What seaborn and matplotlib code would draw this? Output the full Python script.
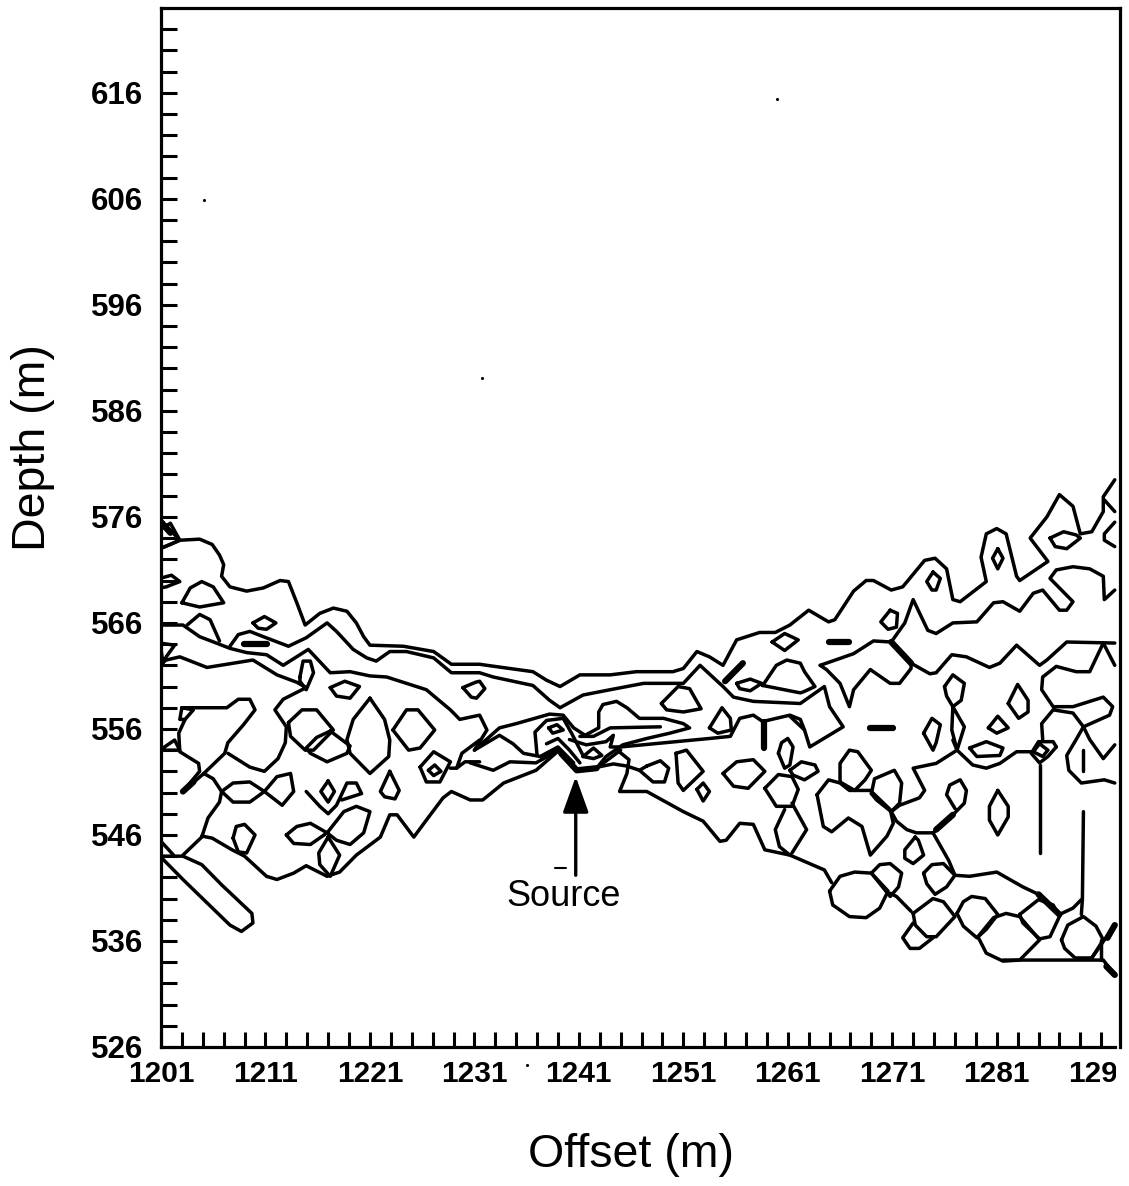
import matplotlib
matplotlib.use("Agg")
import matplotlib.pyplot as plt
import seaborn as sns
import pandas as pd
from matplotlib.ticker import FixedLocator
from matplotlib.transforms import Bbox

# Axis ticks
offset_labelled = [1201, 1211, 1221, 1231, 1241, 1251, 1261, 1271, 1281, 1291]
offset_minor = list(range(1201, 1293, 2))
depth_labelled = [526, 536, 546, 556, 566, 576, 586, 596, 606, 616]
depth_minor = list(range(526, 624, 2))

# Long contours as (offset, depth)
upper_front = [(1200.9, 573.0), (1201.9, 573.4), (1202.8, 573.8), (1204.7, 573.9), (1205.9, 573.4), (1206.6, 572.4),
               (1207.0, 571.5), (1206.8, 570.4), (1207.6, 569.4), (1209.2, 569.0), (1210.8, 569.3), (1212.4, 570.0),
               (1213.2, 569.9), (1214.0, 567.9), (1214.8, 565.8), (1216.2, 566.9), (1217.5, 567.4), (1218.8, 567.1),
               (1219.7, 566.0), (1220.4, 564.7), (1221.0, 563.9), (1224.2, 563.8), (1227.1, 563.3), (1228.8, 562.1),
               (1231.5, 562.1), (1232.2, 562.0), (1234.4, 561.7), (1236.6, 561.4), (1237.9, 560.6), (1239.2, 560.0),
               (1241.1, 561.1), (1244.0, 561.1), (1246.5, 561.4), (1250.0, 561.4), (1251.0, 561.7), (1252.3, 563.3),
               (1253.5, 562.8), (1254.8, 562.0), (1256.1, 564.4), (1258.3, 565.1), (1259.8, 565.1), (1261.2, 565.8),
               (1263.0, 567.2), (1264.9, 566.1), (1265.5, 566.3), (1267.3, 569.0), (1268.5, 570.0), (1269.2, 570.0),
               (1270.9, 569.1), (1272.0, 569.4), (1274.1, 571.9), (1275.1, 572.1), (1276.2, 571.1), (1276.8, 568.2),
               (1277.5, 568.0), (1280.0, 569.9), (1279.5, 572.2), (1280.0, 574.4), (1281.0, 574.9), (1281.9, 574.4),
               (1282.9, 570.4), (1283.2, 570.0), (1285.9, 571.8), (1284.2, 574.0), (1285.8, 576.0), (1287.0, 578.1),
               (1288.3, 577.0), (1289.0, 574.4), (1290.1, 574.6), (1291.2, 576.5), (1291.2, 577.9), (1292.3, 579.5)]
second_front = [(1207.6, 563.8), (1208.4, 564.9), (1209.5, 565.2), (1210.8, 564.7), (1213.2, 563.8), (1214.9, 564.6),
                (1216.9, 566.0), (1217.8, 565.2), (1219.4, 563.5), (1220.7, 562.7), (1221.6, 562.4), (1222.9, 563.3),
                (1224.5, 563.3), (1227.1, 562.7), (1228.8, 561.3), (1231.5, 561.3), (1232.8, 560.9), (1236.6, 560.1),
                (1238.2, 558.7), (1239.2, 558.0), (1241.4, 559.2), (1244.0, 559.7), (1247.2, 560.3), (1251.0, 560.3),
                (1252.6, 562.0), (1254.8, 560.0), (1255.8, 559.0), (1257.7, 558.6), (1262.2, 558.4), (1264.5, 560.0),
                (1265.0, 558.1), (1266.3, 556.2), (1263.1, 554.3), (1262.6, 555.9), (1261.2, 557.2)]
left_start = [(1200.9, 565.8), (1203.1, 565.8), (1204.7, 564.7), (1206.3, 564.1), (1207.6, 563.6), (1209.2, 563.2),
              (1211.1, 563.0), (1212.7, 562.0), (1215.1, 563.5), (1217.2, 561.3), (1219.1, 561.4), (1221.0, 561.0),
              (1222.6, 560.9), (1224.5, 560.3), (1226.4, 559.7), (1228.7, 557.8), (1229.6, 556.9), (1231.5, 557.3),
              (1232.2, 555.9), (1231.0, 554.0), (1233.4, 556.1), (1235.0, 556.5), (1238.2, 557.4), (1239.5, 557.3),
              (1240.5, 556.1), (1241.6, 555.4), (1242.9, 556.1), (1242.9, 557.6), (1243.3, 558.3), (1244.6, 558.6),
              (1245.6, 558.0), (1246.8, 557.0), (1249.1, 557.0), (1251.0, 556.5), (1251.6, 556.1), (1249.7, 555.6),
              (1247.5, 555.1), (1245.2, 554.5), (1243.6, 553.4), (1242.7, 552.3)]
lower_left = [(1200.9, 562.1), (1201.5, 562.5), (1202.8, 562.8), (1205.4, 561.8), (1207.3, 562.1), (1209.8, 562.5),
              (1212.1, 561.1), (1214.0, 560.4), (1214.9, 559.9), (1212.7, 558.8), (1211.9, 557.8), (1213.0, 556.2),
              (1212.9, 554.7), (1212.2, 553.2), (1210.9, 552.0), (1209.5, 552.4), (1207.4, 553.7)]
bottom_left = [(1204.9, 545.9), (1205.9, 545.7), (1207.8, 544.6), (1209.0, 544.0), (1211.1, 542.1), (1212.1, 541.8),
               (1213.7, 542.4), (1214.9, 543.1), (1216.9, 542.1), (1218.1, 542.5), (1219.7, 544.1), (1222.0, 545.8),
               (1222.9, 547.9), (1223.6, 547.9), (1225.2, 545.8), (1226.4, 547.4), (1228.0, 549.5), (1228.8, 550.1),
               (1230.6, 549.3), (1231.8, 549.3), (1233.8, 550.9), (1236.9, 552.1), (1239.0, 553.9)]
bottom_right = [(1244.8, 553.9), (1245.8, 553.1), (1245.6, 551.8), (1244.9, 550.1), (1247.5, 550.1), (1251.0, 548.2),
                (1252.9, 547.3), (1254.5, 545.4), (1255.1, 545.5), (1256.4, 547.1), (1257.7, 547.0), (1258.8, 544.6),
                (1261.2, 544.1), (1264.5, 542.7), (1265.2, 541.5)]
right_upper = [(1270.9, 564.2), (1272.2, 566.0), (1273.0, 568.2), (1274.4, 565.3), (1275.2, 565.0), (1276.8, 566.0),
               (1279.1, 566.1), (1280.7, 567.9), (1281.6, 568.0), (1283.2, 567.1), (1284.5, 568.8), (1285.4, 569.1),
               (1287.0, 567.2), (1287.7, 567.2), (1288.3, 568.0), (1286.1, 570.2), (1286.7, 571.0), (1288.3, 571.3),
               (1289.9, 571.1), (1291.2, 570.4), (1291.3, 568.2), (1292.3, 569.1)]
right_middle = [(1264.1, 562.0), (1267.3, 563.1), (1269.2, 564.3), (1270.9, 564.2), (1272.8, 562.2), (1274.6, 561.2),
                (1275.2, 561.3), (1276.7, 563.0), (1278.1, 562.8), (1280.3, 561.8), (1281.3, 562.2), (1282.9, 563.9),
                (1285.1, 562.0), (1285.8, 562.5), (1287.7, 564.2), (1292.3, 564.1)]
right_sag = [(1264.1, 562.0), (1264.7, 561.6), (1266.0, 560.3), (1266.9, 558.1), (1267.3, 559.7), (1268.9, 561.6),
             (1270.8, 560.3), (1271.7, 560.3), (1272.8, 561.7), (1272.8, 562.2)]
right_lobe = [(1292.3, 562.0), (1291.2, 564.1), (1289.9, 561.4), (1288.6, 561.4), (1286.7, 561.9), (1285.4, 560.9),
              (1285.3, 559.7), (1286.4, 558.1), (1288.3, 558.1), (1291.2, 559.0), (1292.1, 558.1), (1291.8, 557.3),
              (1289.3, 556.2), (1288.3, 557.5), (1286.4, 557.8), (1285.3, 556.5), (1285.4, 555.0)]
right_low = [(1284.2, 553.85), (1282.9, 553.85), (1281.3, 552.75), (1280.0, 552.3), (1278.7, 552.6), (1277.2, 554.0),
             (1275.2, 552.75), (1273.0, 552.3), (1274.1, 550.2), (1273.6, 549.5), (1271.7, 548.8), (1270.9, 548.2),
             (1271.4, 547.3), (1272.4, 546.5), (1273.3, 546.2), (1274.9, 546.2), (1276.8, 547.9), (1277.9, 549.0),
             (1278.1, 550.2), (1277.5, 551.2), (1276.5, 550.7), (1276.2, 549.8), (1277.0, 548.5)]
right_tail = [(1274.9, 546.2), (1276.4, 543.6), (1277.0, 542.2), (1278.4, 542.1), (1281.0, 542.5), (1283.5, 541.1),
              (1285.0, 540.4), (1287.0, 538.5), (1288.3, 539.1), (1289.1, 539.9)]
source_peak = [(1237.4, 553.1), (1239.0, 554.0), (1240.8, 552.1), (1242.7, 552.3), (1245.0, 554.0)]

# Shorter open contours
short_lines = [
    [(1291.3, 577.6), (1292.3, 576.5)],
    [(1292.3, 575.5), (1291.3, 574.4), (1291.3, 573.8), (1292.3, 573.2)],
    [(1289.3, 556.2), (1288.6, 555.0), (1287.7, 553.5), (1287.9, 552.1), (1289.1, 550.9), (1291.3, 551.2), (1292.3, 550.9)],
    [(1289.3, 556.2), (1289.9, 555.0), (1291.2, 553.2), (1292.3, 554.5)],
    [(1289.3, 554.0), (1289.3, 552.0)],
    [(1289.3, 548.2), (1289.2, 539.9), (1289.1, 538.5)],
    [(1285.1, 552.6), (1285.1, 544.3)],
    [(1241.1, 555.3), (1242.4, 555.3), (1244.0, 556.1), (1248.8, 556.2)],
    [(1240.1, 555.0), (1241.7, 554.5), (1243.6, 554.8), (1244.3, 555.4), (1244.0, 554.3), (1245.0, 554.3),
     (1250.3, 554.8), (1253.5, 555.1), (1255.5, 555.3), (1256.4, 557.0), (1257.7, 557.3), (1258.6, 556.7),
     (1259.9, 557.0), (1261.2, 557.3), (1262.2, 556.9), (1262.6, 555.9)],
    [(1242.8, 552.4), (1244.3, 552.7), (1245.6, 552.5), (1246.8, 552.1)],
    [(1230.6, 552.8), (1232.8, 552.1), (1234.4, 552.9), (1236.9, 552.8), (1239.0, 554.0)],
    [(1231.0, 554.0), (1233.4, 555.4), (1234.7, 554.6), (1235.7, 553.7), (1237.3, 553.4), (1239.0, 554.3), (1240.5, 552.8)],
    [(1237.0, 553.5), (1236.8, 555.7), (1237.9, 556.8), (1239.5, 557.0), (1240.3, 555.6), (1241.4, 553.5)],
    [(1237.9, 554.6), (1239.0, 555.1), (1240.1, 554.0), (1241.1, 552.8)],
    [(1260.7, 548.4), (1259.8, 546.5), (1260.2, 544.9), (1261.2, 544.1)],
    [(1261.4, 549.0), (1262.8, 546.5), (1261.4, 544.3)],
    [(1203.5, 565.8), (1204.7, 566.8), (1205.7, 566.3), (1206.6, 564.3)],
    [(1203.0, 558.0), (1207.3, 558.0), (1208.4, 558.8), (1209.5, 558.8), (1210.0, 557.8), (1208.9, 556.4),
     (1207.4, 554.7), (1207.1, 553.7), (1205.1, 551.8), (1203.1, 550.1)],
    [(1203.3, 556.9), (1202.7, 555.6), (1202.8, 553.85), (1204.6, 552.75), (1204.7, 552.0), (1203.1, 550.1)],
    [(1205.1, 551.8), (1206.0, 551.3), (1206.8, 550.1), (1206.6, 549.1), (1205.5, 547.6), (1204.9, 545.8), (1203.1, 544.1)],
    [(1214.9, 550.1), (1216.2, 548.7), (1217.0, 548.0), (1217.8, 548.8), (1218.8, 550.9), (1219.7, 550.9), (1220.2, 549.9), (1218.3, 549.3)],
    [(1228.7, 552.3), (1229.3, 552.3), (1229.8, 553.7), (1231.5, 554.95)],
    [(1229.3, 552.3), (1230.1, 552.9), (1231.5, 552.9)],
    [(1200.9, 545.5), (1202.2, 544.1)],
    [(1270.8, 540.5), (1271.4, 540.2), (1272.8, 538.8)],
    [(1273.0, 537.7), (1272.0, 536.3), (1272.7, 535.3), (1273.6, 535.3), (1274.9, 536.3)],
    [(1281.6, 534.2), (1291.2, 534.2), (1292.3, 532.8)],
    [(1291.0, 536.1), (1291.0, 534.2)],
    [(1290.1, 534.4), (1292.3, 537.5)],
    [(1276.8, 554.95), (1277.2, 554.0)],
    [(1200.9, 575.8), (1202.8, 573.8)],
]

# Closed rings
closed_rings = [
    [(1286.1, 574.0), (1287.4, 574.6), (1288.6, 574.3), (1289.0, 574.0), (1287.7, 573.0), (1286.6, 573.2)],
    [(1274.9, 570.8), (1275.6, 570.2), (1275.2, 569.1), (1274.8, 569.1), (1274.3, 569.9)],
    [(1281.1, 573.0), (1281.6, 572.1), (1281.1, 571.1), (1280.6, 572.1)],
    [(1270.8, 567.2), (1271.5, 566.9), (1271.4, 565.6), (1270.6, 565.4), (1269.9, 566.1)],
    [(1286.7, 554.3), (1285.9, 553.4), (1285.1, 552.8), (1284.3, 553.7), (1285.0, 554.8), (1286.4, 554.8)],
    [(1285.1, 554.6), (1285.9, 554.0), (1285.4, 553.4), (1284.5, 553.85)],
    [(1281.1, 550.2), (1282.1, 548.7), (1282.1, 547.7), (1281.1, 546.0), (1280.3, 547.4), (1280.3, 548.7)],
    [(1265.0, 540.7), (1266.0, 542.1), (1267.4, 542.5), (1269.0, 542.4), (1270.6, 540.7), (1269.8, 539.1), (1268.5, 538.2), (1266.9, 538.3), (1265.3, 539.4)],
    [(1269.0, 542.4), (1269.8, 543.2), (1270.8, 543.3), (1271.9, 542.4), (1271.6, 541.1), (1270.8, 540.2)],
    [(1273.0, 538.6), (1274.9, 540.0), (1275.9, 539.7), (1277.0, 538.3), (1275.2, 536.4), (1274.3, 536.4), (1273.2, 537.5)],
    [(1274.0, 542.4), (1274.8, 543.2), (1275.9, 543.3), (1277.0, 542.2), (1276.2, 541.1), (1275.1, 540.4), (1274.3, 541.4)],
    [(1277.2, 538.6), (1277.8, 539.7), (1278.6, 540.2), (1279.9, 540.0), (1281.1, 538.5), (1280.0, 537.1), (1279.1, 536.3), (1277.8, 537.4)],
    [(1279.2, 536.4), (1280.0, 534.85), (1281.6, 534.1), (1283.2, 534.2), (1285.1, 536.1), (1283.2, 538.3), (1281.9, 538.6), (1280.7, 538.2)],
    [(1283.2, 538.5), (1285.0, 539.9), (1286.4, 539.4), (1287.0, 538.3), (1286.1, 536.4), (1285.1, 536.2), (1283.5, 537.7)],
    [(1287.2, 536.1), (1287.8, 537.5), (1289.3, 538.3), (1290.5, 537.4), (1291.2, 536.1), (1290.1, 534.4), (1288.5, 534.4), (1287.5, 535.3)],
    [(1263.8, 549.8), (1264.9, 551.2), (1266.0, 550.9), (1266.9, 550.2), (1268.9, 550.2), (1270.8, 548.4), (1271.1, 547.1), (1270.5, 545.9), (1268.9, 544.1), (1268.1, 546.8), (1266.8, 547.6), (1265.2, 546.3), (1264.4, 546.8)],
    [(1266.0, 551.0), (1266.0, 552.75), (1266.9, 554.0), (1267.7, 553.85), (1269.0, 552.1), (1268.4, 551.2), (1267.4, 550.2)],
    [(1269.0, 549.9), (1269.3, 551.3), (1271.2, 552.1), (1271.9, 550.9), (1271.7, 549.0), (1270.9, 548.2), (1269.5, 549.3)],
    [(1261.2, 552.1), (1262.3, 552.9), (1263.6, 552.6), (1263.9, 552.0), (1262.6, 551.2), (1261.5, 551.65)],
    [(1273.2, 545.8), (1272.2, 544.6), (1272.2, 543.8), (1273.0, 543.3), (1274.0, 544.1), (1273.5, 545.5)],
    [(1258.8, 550.4), (1260.1, 551.7), (1261.4, 551.5), (1262.0, 550.3), (1261.4, 548.7), (1259.9, 548.7)],
    [(1260.1, 553.7), (1260.4, 554.7), (1261.0, 555.1), (1261.5, 554.3), (1261.2, 552.6), (1260.7, 552.3)],
    [(1254.8, 551.8), (1256.1, 552.9), (1257.7, 553.1), (1258.8, 552.0), (1257.2, 550.4), (1255.8, 550.6)],
    [(1258.6, 560.1), (1259.9, 562.0), (1260.9, 562.5), (1262.2, 562.2), (1262.6, 561.4), (1263.6, 560.0), (1262.5, 559.5), (1262.2, 559.4)],
    [(1256.1, 560.3), (1257.4, 560.7), (1258.5, 560.3), (1257.4, 559.6), (1256.4, 559.8)],
    [(1259.5, 564.2), (1260.7, 565.0), (1262.0, 564.4), (1260.7, 563.4)],
    [(1229.9, 559.9), (1231.1, 560.4), (1231.5, 560.5), (1232.0, 559.8), (1231.2, 558.9), (1230.7, 559.0)],
    [(1248.9, 558.4), (1250.5, 560.0), (1251.6, 559.8), (1252.7, 557.9), (1251.0, 557.6), (1249.4, 557.8)],
    [(1253.5, 556.1), (1254.7, 558.0), (1255.5, 557.0), (1255.6, 555.9), (1254.3, 555.6)],
    [(1250.3, 553.7), (1251.3, 554.0), (1252.9, 552.0), (1251.0, 550.2), (1250.5, 550.9)],
    [(1252.3, 550.3), (1252.9, 550.9), (1253.5, 550.1), (1252.9, 549.2)],
    [(1247.5, 552.5), (1248.8, 553.0), (1249.6, 552.3), (1249.2, 551.0), (1248.1, 551.0), (1246.8, 552.1)],
    [(1238.1, 556.1), (1238.9, 556.4), (1239.5, 555.9), (1238.5, 555.6)],
    [(1241.4, 553.4), (1242.4, 554.2), (1243.2, 553.5), (1242.4, 553.2)],
    [(1203.0, 567.9), (1203.8, 569.3), (1204.9, 569.9), (1206.0, 569.4), (1207.0, 567.9), (1204.7, 567.5)],
    [(1200.9, 574.8), (1201.9, 575.4), (1202.8, 573.8), (1200.9, 573.0)],
    [(1200.9, 570.2), (1202.0, 570.5), (1202.8, 569.9), (1201.5, 569.4), (1200.9, 569.3)],
    [(1209.8, 566.0), (1210.9, 566.6), (1212.0, 566.0), (1211.1, 565.4), (1210.3, 565.5)],
    [(1200.9, 564.1), (1202.3, 563.9), (1201.5, 562.8), (1201.2, 562.2)],
    [(1214.3, 560.9), (1214.6, 562.4), (1215.3, 562.4), (1215.6, 561.3), (1214.9, 559.7), (1214.3, 560.5)],
    [(1217.2, 559.9), (1218.6, 560.5), (1220.0, 560.0), (1219.1, 558.9), (1217.8, 559.1)],
    [(1203.0, 558.0), (1202.8, 556.9), (1203.3, 556.9), (1204.1, 557.8)],
    [(1200.9, 554.0), (1202.3, 554.95), (1202.8, 554.0)],
    [(1206.8, 550.1), (1207.9, 550.9), (1209.5, 551.0), (1210.9, 550.1), (1209.5, 549.1), (1207.9, 549.1)],
    [(1210.9, 550.1), (1212.1, 551.5), (1213.4, 551.8), (1213.7, 550.1), (1212.6, 548.8)],
    [(1217.0, 551.1), (1217.6, 550.1), (1217.0, 549.1), (1216.3, 550.1)],
    [(1222.9, 552.0), (1223.8, 550.2), (1223.4, 549.4), (1222.4, 549.6), (1222.0, 550.1)],
    [(1225.8, 552.4), (1227.1, 553.85), (1228.7, 552.9), (1227.7, 551.0), (1226.4, 551.0)],
    [(1226.6, 552.1), (1227.2, 552.6), (1227.8, 552.0), (1227.1, 551.6)],
    [(1200.9, 544.0), (1203.1, 541.8), (1207.6, 537.5), (1208.7, 536.9), (1209.8, 537.7), (1209.7, 538.6), (1206.8, 541.3), (1204.9, 543.2), (1203.1, 544.0)],
    [(1207.9, 545.7), (1208.2, 546.8), (1209.0, 547.0), (1210.0, 546.0), (1209.2, 544.3), (1208.4, 544.4)],
    [(1213.0, 546.0), (1214.0, 546.8), (1215.3, 547.1), (1216.9, 546.2), (1215.3, 545.1), (1213.7, 545.2)],
    [(1216.9, 546.2), (1218.5, 548.2), (1219.7, 548.7), (1221.0, 548.2), (1220.4, 546.2), (1219.1, 545.1), (1217.8, 545.5)],
    [(1217.0, 545.8), (1218.1, 544.1), (1217.2, 542.1), (1216.2, 543.2), (1216.1, 544.3)],
    [(1213.2, 556.6), (1214.5, 557.8), (1215.9, 557.8), (1217.5, 555.9), (1215.6, 554.0), (1214.8, 554.0), (1213.4, 555.3)],
    [(1221.0, 558.9), (1219.4, 556.9), (1218.8, 555.0), (1219.1, 553.7), (1221.0, 551.8), (1222.8, 553.4), (1222.9, 554.95), (1222.4, 556.9)],
    [(1223.2, 555.9), (1224.5, 557.8), (1225.6, 557.8), (1227.2, 555.9), (1225.8, 554.2), (1224.7, 554.0)],
    [(1217.2, 555.8), (1219.1, 554.4), (1218.8, 553.7), (1216.9, 552.9), (1215.3, 553.7), (1214.9, 554.2), (1215.9, 555.2)],
    [(1274.0, 555.6), (1274.8, 557.0), (1275.6, 556.4), (1275.2, 554.7), (1274.9, 554.0)],
    [(1276.0, 560.0), (1276.8, 561.1), (1277.9, 560.3), (1277.6, 558.7), (1276.8, 558.1), (1276.2, 559.1)],
    [(1276.8, 558.1), (1277.9, 556.2), (1277.2, 554.0), (1276.7, 555.9)],
    [(1282.1, 558.4), (1283.0, 560.2), (1284.0, 558.7), (1284.0, 557.6), (1283.1, 557.0)],
    [(1280.2, 556.1), (1281.1, 557.2), (1282.1, 556.1), (1281.0, 555.6)],
    [(1278.4, 554.2), (1280.0, 554.8), (1281.6, 554.2), (1281.3, 553.5), (1279.1, 553.4)],
]

# Heavier strokes and dashes
heavy_strokes = [
    [(1264.9, 564.2), (1266.9, 564.2)],
    [(1268.9, 556.1), (1271.1, 556.1)],
    [(1208.9, 564.0), (1211.1, 564.0)],
    [(1270.9, 564.2), (1272.8, 562.2)],
    [(1275.2, 546.5), (1276.8, 547.9)],
    [(1285.0, 540.4), (1287.0, 538.5)],
    [(1255.0, 560.5), (1256.7, 562.2)],
    [(1258.7, 556.7), (1258.7, 554.2)],
    [(1239.3, 553.7), (1240.8, 552.1), (1242.7, 552.3)],
    [(1203.1, 550.1), (1204.1, 551.0)],
    [(1291.5, 533.6), (1292.3, 532.8)],
    [(1291.6, 536.3), (1292.3, 537.5)],
    [(1200.9, 575.6), (1201.9, 574.5)],
]
source_dash = [(1238.7, 542.9), (1239.8, 542.9)]

speck_offset = [1205.1, 1260.0, 1231.7, 1236.0]
speck_depth = [605.9, 615.4, 589.1, 524.3]

arrow_tip = (1240.7, 551.5)
arrow_tail = (1240.7, 542.2)


def to_frame(lines, close=False):
    rows = []
    for i, pts in enumerate(lines):
        if close:
            pts = pts + pts[:1]
        for off, dep in pts:
            rows.append({"Offset": off, "Depth": dep, "contour": i})
    return pd.DataFrame(rows)


open_lines = [upper_front, second_front, left_start, lower_left, bottom_left, bottom_right, right_upper,
              right_middle, right_sag, right_lobe, right_low, right_tail, source_peak] + short_lines

sns.set_style('white', {'text.color': 'black', 'axes.labelcolor': 'black', 'xtick.color': 'black',
                        'ytick.color': 'black', 'axes.edgecolor': 'black'})
plt.rcParams['font.family'] = ['Liberation Sans', 'DejaVu Sans']

fig = plt.figure(figsize=(11.29, 11.86), dpi=100)
ax = fig.add_axes([161 / 1129, 1 - 1047 / 1186, 959 / 1129, 1039 / 1186])

line_kw = dict(x="Offset", y="Depth", units="contour", estimator=None, sort=False, color='black', ax=ax,
               legend=False, solid_joinstyle='round', solid_capstyle='round')
sns.lineplot(data=to_frame(open_lines), lw=2.5, **line_kw)
sns.lineplot(data=to_frame(closed_rings, close=True), lw=2.5, **line_kw)
sns.lineplot(data=to_frame(heavy_strokes), lw=4.5, **line_kw)
sns.lineplot(data=to_frame([source_dash]), lw=1.5, **line_kw)
sns.scatterplot(x=speck_offset, y=speck_depth, s=5, color='black', linewidth=0, ax=ax, clip_on=False)

ax.annotate('', xy=arrow_tip, xytext=arrow_tail,
            arrowprops=dict(arrowstyle='-|>,head_length=1.0,head_width=0.36', mutation_scale=22, lw=2.4,
                            color='black', shrinkA=0, shrinkB=0))
ax.text(1239.5, 540.2, 'Source', fontsize=26, ha='center', va='center')

ax.set_xlim(1201, 1292.8)
ax.set_ylim(526, 624)

ax.set_xticks(offset_labelled)
ax.set_xticklabels(offset_labelled, fontsize=21.5, fontweight='bold')
ax.set_yticks(depth_labelled)
ax.set_yticklabels(depth_labelled, fontsize=22.5, fontweight='bold')
ax.xaxis.set_minor_locator(FixedLocator(offset_minor))
ax.yaxis.set_minor_locator(FixedLocator(depth_minor))
ax.tick_params(axis='x', which='both', direction='in', bottom=True, length=11, width=2.2, pad=9)
ax.tick_params(axis='y', which='both', direction='in', left=True, length=11.5, width=2.2, pad=13)

ax.set_xlabel('Offset (m)', fontsize=33.5, va='center')
ax.set_ylabel('Depth (m)', fontsize=33.5, va='center')
ax.xaxis.set_label_coords(0.49, -0.104)
ax.yaxis.set_label_coords(-0.1335, 0.577)

for side in ['left', 'top', 'right', 'bottom']:
    ax.spines[side].set_visible(True)
    ax.spines[side].set_linewidth(2.3)
ax.spines['bottom'].set_bounds(1201, 1292.3)

# the last offset label runs off the scanned page
last_label = ax.get_xticklabels()[-1]
last_label.set_clip_on(True)
last_label.set_clip_box(Bbox([[0, 0], [1116, 1186]]))

plt.savefig("out.png", dpi=100)
